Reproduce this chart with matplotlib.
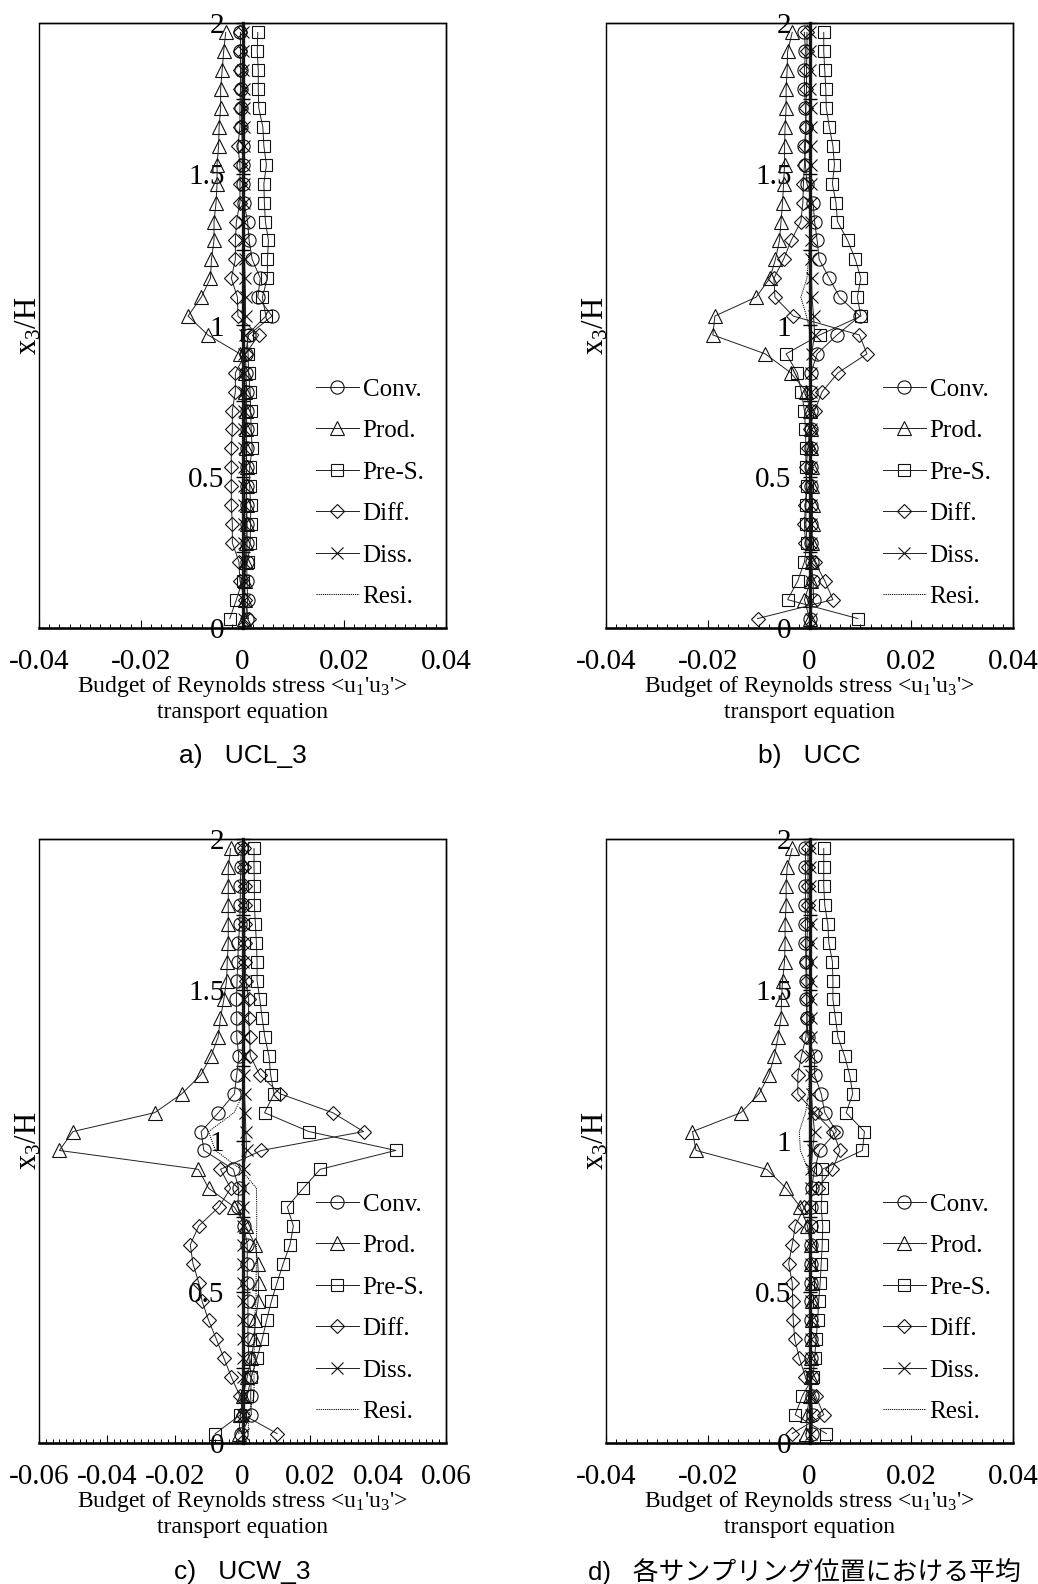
import numpy as np
import matplotlib
matplotlib.use("Agg")
import matplotlib.pyplot as plt
from matplotlib.patches import Rectangle
from matplotlib.ticker import MultipleLocator, FixedLocator, FuncFormatter

plt.rcParams['font.family'] = ['Liberation Serif']
plt.rcParams['mathtext.fontset'] = 'custom'
plt.rcParams['mathtext.rm'] = 'Liberation Serif'
plt.rcParams['mathtext.it'] = 'Liberation Serif:italic'
plt.rcParams['axes.unicode_minus'] = False

# grid-cell heights x3/H (top to bottom)
heights = [1.96875, 1.90625, 1.84375, 1.78125, 1.71875, 1.65625, 1.59375, 1.53125,
           1.46875, 1.40625, 1.34375, 1.28125, 1.21875, 1.15625, 1.09375, 1.03125,
           0.96875, 0.90625, 0.84375, 0.78125, 0.71875, 0.65625, 0.59375, 0.53125,
           0.46875, 0.40625, 0.34375, 0.28125, 0.21875, 0.15625, 0.09375, 0.03125]

series_labels = ["Conv.", "Prod.", "Pre-S.", "Diff.", "Diss.", "Resi."]

# a) UCL_3
a_conv = [-0.0004, -0.0004, -0.0003, -0.0003, -0.0002, -0.0002, 0.0000, 0.0000,
          0.0001, 0.0003, 0.0010, 0.0013, 0.0019, 0.0035, 0.0030, 0.0058,
          0.0012, 0.0006, 0.0007, 0.0008, 0.0008, 0.0008, 0.0008, 0.0008,
          0.0008, 0.0008, 0.0009, 0.0009, 0.0008, 0.0009, 0.0010, 0.0008]
a_prod = [-0.0033, -0.0037, -0.0040, -0.0043, -0.0043, -0.0046, -0.0047, -0.0050,
          -0.0050, -0.0052, -0.0056, -0.0056, -0.0061, -0.0063, -0.0081, -0.0107,
          -0.0068, -0.0005, 0.0004, 0.0005, 0.0006, 0.0007, 0.0007, 0.0008,
          0.0008, 0.0008, 0.0008, 0.0007, 0.0006, 0.0005, 0.0004, 0.0002]
a_pres = [0.0030, 0.0029, 0.0031, 0.0031, 0.0032, 0.0040, 0.0042, 0.0047,
          0.0042, 0.0043, 0.0045, 0.0051, 0.0049, 0.0049, 0.0039, 0.0046,
          0.0009, 0.0011, 0.0012, 0.0015, 0.0016, 0.0017, 0.0019, 0.0014,
          0.0014, 0.0016, 0.0016, 0.0015, 0.0010, 0.0000, -0.0012, -0.0025]
a_diff = [-0.0004, -0.0004, -0.0004, -0.0004, -0.0005, -0.0005, -0.0009, -0.0005,
          -0.0005, -0.0005, -0.0012, -0.0014, -0.0014, -0.0022, -0.0010, -0.0009,
          0.0032, 0.0006, -0.0014, -0.0014, -0.0020, -0.0020, -0.0022, -0.0022,
          -0.0022, -0.0022, -0.0020, -0.0020, -0.0007, -0.0005, 0.0004, 0.0012]
a_diss = [0.0001, 0.0001, 0.0001, 0.0002, 0.0002, 0.0002, 0.0002, 0.0002,
          0.0002, 0.0002, 0.0003, 0.0003, 0.0004, 0.0005, 0.0006, 0.0006,
          0.0004, 0.0003, 0.0002, 0.0002, 0.0002, 0.0002, 0.0002, 0.0002,
          0.0002, 0.0002, 0.0002, 0.0002, 0.0002, 0.0002, 0.0002, 0.0002]
a_resi = [0.0003, 0.0003, 0.0003, 0.0003, 0.0003, 0.0003, 0.0003, 0.0003,
          0.0003, 0.0003, 0.0003, 0.0003, 0.0004, 0.0004, 0.0002, 0.0001,
          0.0003, 0.0004, 0.0005, 0.0005, 0.0005, 0.0005, 0.0005, 0.0005,
          0.0005, 0.0005, 0.0005, 0.0005, 0.0004, 0.0004, 0.0003, 0.0003]

# b) UCC
b_conv = [-0.0010, -0.0008, -0.0010, -0.0010, -0.0008, -0.0007, -0.0010, -0.0008,
          -0.0005, 0.0007, 0.0010, 0.0015, 0.0019, 0.0039, 0.0059, 0.0099,
          0.0054, 0.0015, 0.0003, 0.0003, 0.0002, 0.0002, 0.0002, 0.0002,
          0.0002, 0.0003, 0.0003, 0.0003, 0.0004, 0.0007, 0.0008, 0.0000]
b_prod = [-0.0034, -0.0043, -0.0044, -0.0046, -0.0046, -0.0048, -0.0049, -0.0049,
          -0.0051, -0.0053, -0.0056, -0.0059, -0.0067, -0.0078, -0.0105, -0.0186,
          -0.0190, -0.0087, -0.0037, -0.0006, 0.0000, 0.0002, 0.0003, 0.0004,
          0.0005, 0.0006, 0.0006, 0.0005, 0.0004, 0.0002, -0.0010, 0.0000]
b_pres = [0.0028, 0.0028, 0.0030, 0.0032, 0.0033, 0.0039, 0.0046, 0.0049,
          0.0045, 0.0052, 0.0055, 0.0075, 0.0090, 0.0101, 0.0094, 0.0101,
          0.0020, -0.0046, -0.0024, -0.0016, -0.0010, -0.0008, -0.0007, -0.0007,
          -0.0005, -0.0007, -0.0007, -0.0005, -0.0010, -0.0023, -0.0043, 0.0095]
b_diff = [-0.0005, -0.0005, -0.0006, -0.0006, -0.0007, -0.0007, -0.0008, -0.0010,
          -0.0012, -0.0013, -0.0017, -0.0036, -0.0051, -0.0070, -0.0068, -0.0032,
          0.0098, 0.0113, 0.0056, 0.0025, 0.0010, 0.0000, -0.0003, -0.0007,
          -0.0006, -0.0008, -0.0010, -0.0008, 0.0010, 0.0030, 0.0046, -0.0102]
b_diss = [0.0001, 0.0001, 0.0001, 0.0001, 0.0002, 0.0002, 0.0002, 0.0002,
          0.0002, 0.0002, 0.0002, 0.0003, 0.0003, 0.0004, 0.0005, 0.0008,
          0.0010, 0.0004, 0.0002, 0.0002, 0.0002, 0.0002, 0.0002, 0.0002,
          0.0002, 0.0002, 0.0002, 0.0002, 0.0002, 0.0002, 0.0002, 0.0002]
b_resi = [0.0002, 0.0002, 0.0002, 0.0002, 0.0002, 0.0002, 0.0002, 0.0002,
          0.0002, 0.0002, 0.0001, 0.0000, -0.0002, -0.0005, -0.0017, -0.0006,
          0.0002, 0.0003, 0.0003, 0.0003, 0.0003, 0.0003, 0.0003, 0.0003,
          0.0003, 0.0003, 0.0003, 0.0003, 0.0003, 0.0002, 0.0002, 0.0002]

# c) UCW_3
c_conv = [-0.0004, -0.0005, -0.0006, -0.0007, -0.0008, -0.0012, -0.0014, -0.0016,
          -0.0018, -0.0017, -0.0017, -0.0011, -0.0017, -0.0024, -0.0071, -0.0122,
          -0.0114, -0.0027, -0.0011, -0.0014, 0.0004, 0.0014, 0.0014, 0.0014,
          0.0016, 0.0016, 0.0016, 0.0019, 0.0026, 0.0024, 0.0026, -0.0004]
c_prod = [-0.0035, -0.0042, -0.0042, -0.0042, -0.0042, -0.0042, -0.0045, -0.0047,
          -0.0055, -0.0065, -0.0072, -0.0093, -0.0123, -0.0179, -0.0259, -0.0500,
          -0.0540, -0.0130, -0.0100, -0.0024, 0.0009, 0.0038, 0.0045, 0.0048,
          0.0046, 0.0038, 0.0035, 0.0026, 0.0014, 0.0002, -0.0006, -0.0011]
c_pres = [0.0034, 0.0034, 0.0035, 0.0035, 0.0038, 0.0041, 0.0043, 0.0043,
          0.0051, 0.0058, 0.0066, 0.0078, 0.0083, 0.0093, 0.0065, 0.0196,
          0.0452, 0.0229, 0.0179, 0.0132, 0.0150, 0.0140, 0.0120, 0.0102,
          0.0085, 0.0071, 0.0058, 0.0043, 0.0026, 0.0014, -0.0006, -0.0080]
c_diff = [0.0005, 0.0005, 0.0006, 0.0006, 0.0006, 0.0007, 0.0008, 0.0010,
          0.0018, 0.0018, 0.0021, 0.0023, 0.0051, 0.0111, 0.0266, 0.0357,
          0.0056, -0.0065, -0.0035, -0.0070, -0.0129, -0.0154, -0.0146, -0.0129,
          -0.0119, -0.0100, -0.0077, -0.0055, -0.0033, -0.0008, 0.0002, 0.0102]
c_diss = [0.0002, 0.0002, 0.0002, 0.0002, 0.0002, 0.0002, 0.0002, 0.0003,
          0.0003, 0.0003, 0.0003, 0.0004, 0.0004, 0.0006, 0.0008, 0.0010,
          0.0012, 0.0003, 0.0001, 0.0001, 0.0001, 0.0001, 0.0001, 0.0001,
          0.0001, 0.0001, 0.0001, 0.0001, 0.0001, 0.0001, 0.0001, 0.0001]
c_resi = [0.0005, 0.0005, 0.0005, 0.0005, 0.0005, 0.0005, 0.0006, 0.0006,
          0.0006, 0.0006, 0.0006, 0.0006, 0.0006, 0.0002, -0.0025, -0.0100,
          -0.0080, -0.0005, 0.0041, 0.0042, 0.0042, 0.0041, 0.0041, 0.0040,
          0.0040, 0.0035, 0.0035, 0.0034, 0.0034, 0.0034, 0.0018, 0.0017]

# d) averages over sampling positions
d_conv = [-0.0008, -0.0008, -0.0008, -0.0008, -0.0008, -0.0008, -0.0007, -0.0007,
          -0.0006, -0.0005, -0.0003, 0.0010, 0.0010, 0.0023, 0.0030, 0.0053,
          0.0020, 0.0010, 0.0004, 0.0003, 0.0003, 0.0003, 0.0003, 0.0003,
          0.0003, 0.0003, 0.0003, 0.0003, 0.0004, 0.0004, 0.0006, 0.0005]
d_prod = [-0.0034, -0.0044, -0.0046, -0.0046, -0.0048, -0.0048, -0.0049, -0.0053,
          -0.0055, -0.0056, -0.0062, -0.0069, -0.0080, -0.0099, -0.0135, -0.0230,
          -0.0223, -0.0084, -0.0046, -0.0018, -0.0004, 0.0002, 0.0003, 0.0004,
          0.0004, 0.0004, 0.0004, 0.0003, 0.0002, 0.0000, -0.0005, -0.0006]
d_pres = [0.0028, 0.0028, 0.0028, 0.0030, 0.0036, 0.0038, 0.0045, 0.0046,
          0.0046, 0.0051, 0.0056, 0.0069, 0.0079, 0.0085, 0.0072, 0.0108,
          0.0104, 0.0025, 0.0025, 0.0023, 0.0026, 0.0025, 0.0023, 0.0021,
          0.0018, 0.0016, 0.0013, 0.0010, 0.0007, -0.0014, -0.0028, 0.0033]
d_diff = [-0.0003, -0.0003, -0.0003, -0.0003, -0.0004, -0.0005, -0.0006, -0.0005,
          -0.0005, -0.0005, -0.0007, -0.0016, -0.0023, -0.0023, 0.0010, 0.0046,
          0.0060, 0.0045, 0.0016, -0.0010, -0.0028, -0.0034, -0.0041, -0.0034,
          -0.0033, -0.0032, -0.0029, -0.0020, -0.0008, 0.0012, 0.0028, -0.0034]
d_diss = [0.0001, 0.0001, 0.0001, 0.0001, 0.0002, 0.0002, 0.0002, 0.0002,
          0.0002, 0.0002, 0.0002, 0.0003, 0.0003, 0.0004, 0.0006, 0.0010,
          0.0006, 0.0003, 0.0002, 0.0002, 0.0002, 0.0002, 0.0002, 0.0002,
          0.0002, 0.0002, 0.0002, 0.0002, 0.0002, 0.0002, 0.0002, 0.0002]
d_resi = [0.0002, 0.0002, 0.0002, 0.0002, 0.0002, 0.0002, 0.0002, 0.0002,
          0.0002, 0.0002, 0.0002, 0.0001, 0.0000, -0.0002, -0.0008, -0.0020,
          -0.0018, -0.0003, 0.0003, 0.0003, 0.0003, 0.0003, 0.0003, 0.0003,
          0.0003, 0.0003, 0.0003, 0.0003, 0.0003, 0.0002, 0.0002, 0.0002]

captions = ["a)   UCL_3", "b)   UCC", "c)   UCW_3", "d)   各サンプリング位置における平均"]
x_limits = [0.04, 0.04, 0.06, 0.04]

panel_series = [
    (a_conv, a_prod, a_pres, a_diff, a_diss, a_resi),
    (b_conv, b_prod, b_pres, b_diff, b_diss, b_resi),
    (c_conv, c_prod, c_pres, c_diff, c_diss, c_resi),
    (d_conv, d_prod, d_pres, d_diff, d_diss, d_resi),
]

W, H = 1038, 1584
fig = plt.figure(figsize=(W / 100, H / 100), dpi=100)

# axes boxes in pixels: left, top, right, bottom
boxes = [(39, 23, 446, 628), (606, 23, 1013, 628),
         (39, 839, 446, 1443), (606, 839, 1013, 1443)]
caption_y = [756, 756, 1572, 1572]
caption_x = [242.5, 809.5, 242.5, 804]
caption_size = [19, 19, 19, 18.6]

styles = [
    dict(marker='o', ms=9.5, ls='-'),
    dict(marker='^', ms=10, ls='-'),
    dict(marker='s', ms=9, ls='-'),
    dict(marker='D', ms=6.8, ls='-'),
    dict(marker='x', ms=9, ls='-'),
    dict(marker=None, ls=(0, (1.2, 1.0))),
]


def fmt_tick(v, pos):
    if abs(v) < 1e-12:
        return "0"
    return ("%.2f" % v)


def fmt_ytick(v, pos):
    return ("%g" % v)


for k in range(4):
    l, t, r, b = boxes[k]
    ax = fig.add_axes([l / W, 1 - b / H, (r - l) / W, (b - t) / H])
    xm = x_limits[k]
    handles = []
    for vals, st, lab in zip(panel_series[k], styles, series_labels):
        if st['marker'] is None:
            h, = ax.plot(vals, heights, color='k', lw=0.7, ls=st['ls'], label=lab)
        else:
            h, = ax.plot(vals, heights, color='#222222', lw=0.7, ls='-',
                         marker=st['marker'], ms=st['ms'], mfc='none',
                         mec='#111111', mew=0.8, label=lab)
        handles.append(h)

    ax.set_xlim(-xm, xm)
    ax.set_ylim(0, 2)

    # vertical axis drawn through x = 0, frame drawn as a rectangle
    ax.spines['left'].set_position(('data', 0))
    ax.spines['left'].set_linewidth(2.4)
    ax.spines['left'].set_color('#1a1a1a')
    ax.spines['left'].set_zorder(1.5)
    for s in ('top', 'right'):
        ax.spines[s].set_linewidth(1.0)
    ax.spines['bottom'].set_linewidth(1.8)
    ax.add_patch(Rectangle((0, 0), 1, 1, transform=ax.transAxes, fill=False,
                           lw=1.0, ec='k', clip_on=False))

    ax.xaxis.set_major_locator(MultipleLocator(0.02))
    ax.xaxis.set_minor_locator(MultipleLocator(0.002))
    ax.xaxis.set_major_formatter(FuncFormatter(fmt_tick))
    ax.tick_params(axis='x', which='major', direction='in', length=6, width=0.8,
                   labelsize=21, pad=15, top=False)
    ax.tick_params(axis='x', which='minor', direction='in', length=3, width=0.7,
                   top=False)

    ax.yaxis.set_major_locator(FixedLocator([0, 0.5, 1, 1.5, 2]))
    ax.yaxis.set_minor_locator(FixedLocator([0.25, 0.75, 1.25, 1.75]))
    ax.yaxis.set_major_formatter(FuncFormatter(fmt_ytick))
    ax.tick_params(axis='y', which='both', direction='inout', length=10, width=1.0,
                   labelsize=21, pad=8, right=False)

    ax.set_ylabel("x$_3$/H", fontsize=22)
    ax.yaxis.set_label_coords(0.011, 0.5)
    ax.set_xlabel("Budget of Reynolds stress <u$_1$'u$_3$'>\ntransport equation",
                  fontsize=17, linespacing=1.2)
    ax.xaxis.set_label_coords(0.5, -0.076)
    ax.xaxis.label.set_va('top')

    ax.legend(handles=handles, loc='lower left', bbox_to_anchor=(0.68, 0.033),
              frameon=False, fontsize=18, handlelength=1.72, handletextpad=0.15,
              labelspacing=0.76, borderpad=0, borderaxespad=0, numpoints=1)

    fig.text(caption_x[k] / W, 1 - caption_y[k] / H, captions[k],
             family=['Liberation Sans', 'Noto Sans CJK JP'], fontsize=caption_size[k],
             ha='center', va='center')

fig.savefig("out.png", dpi=100, facecolor='white')
